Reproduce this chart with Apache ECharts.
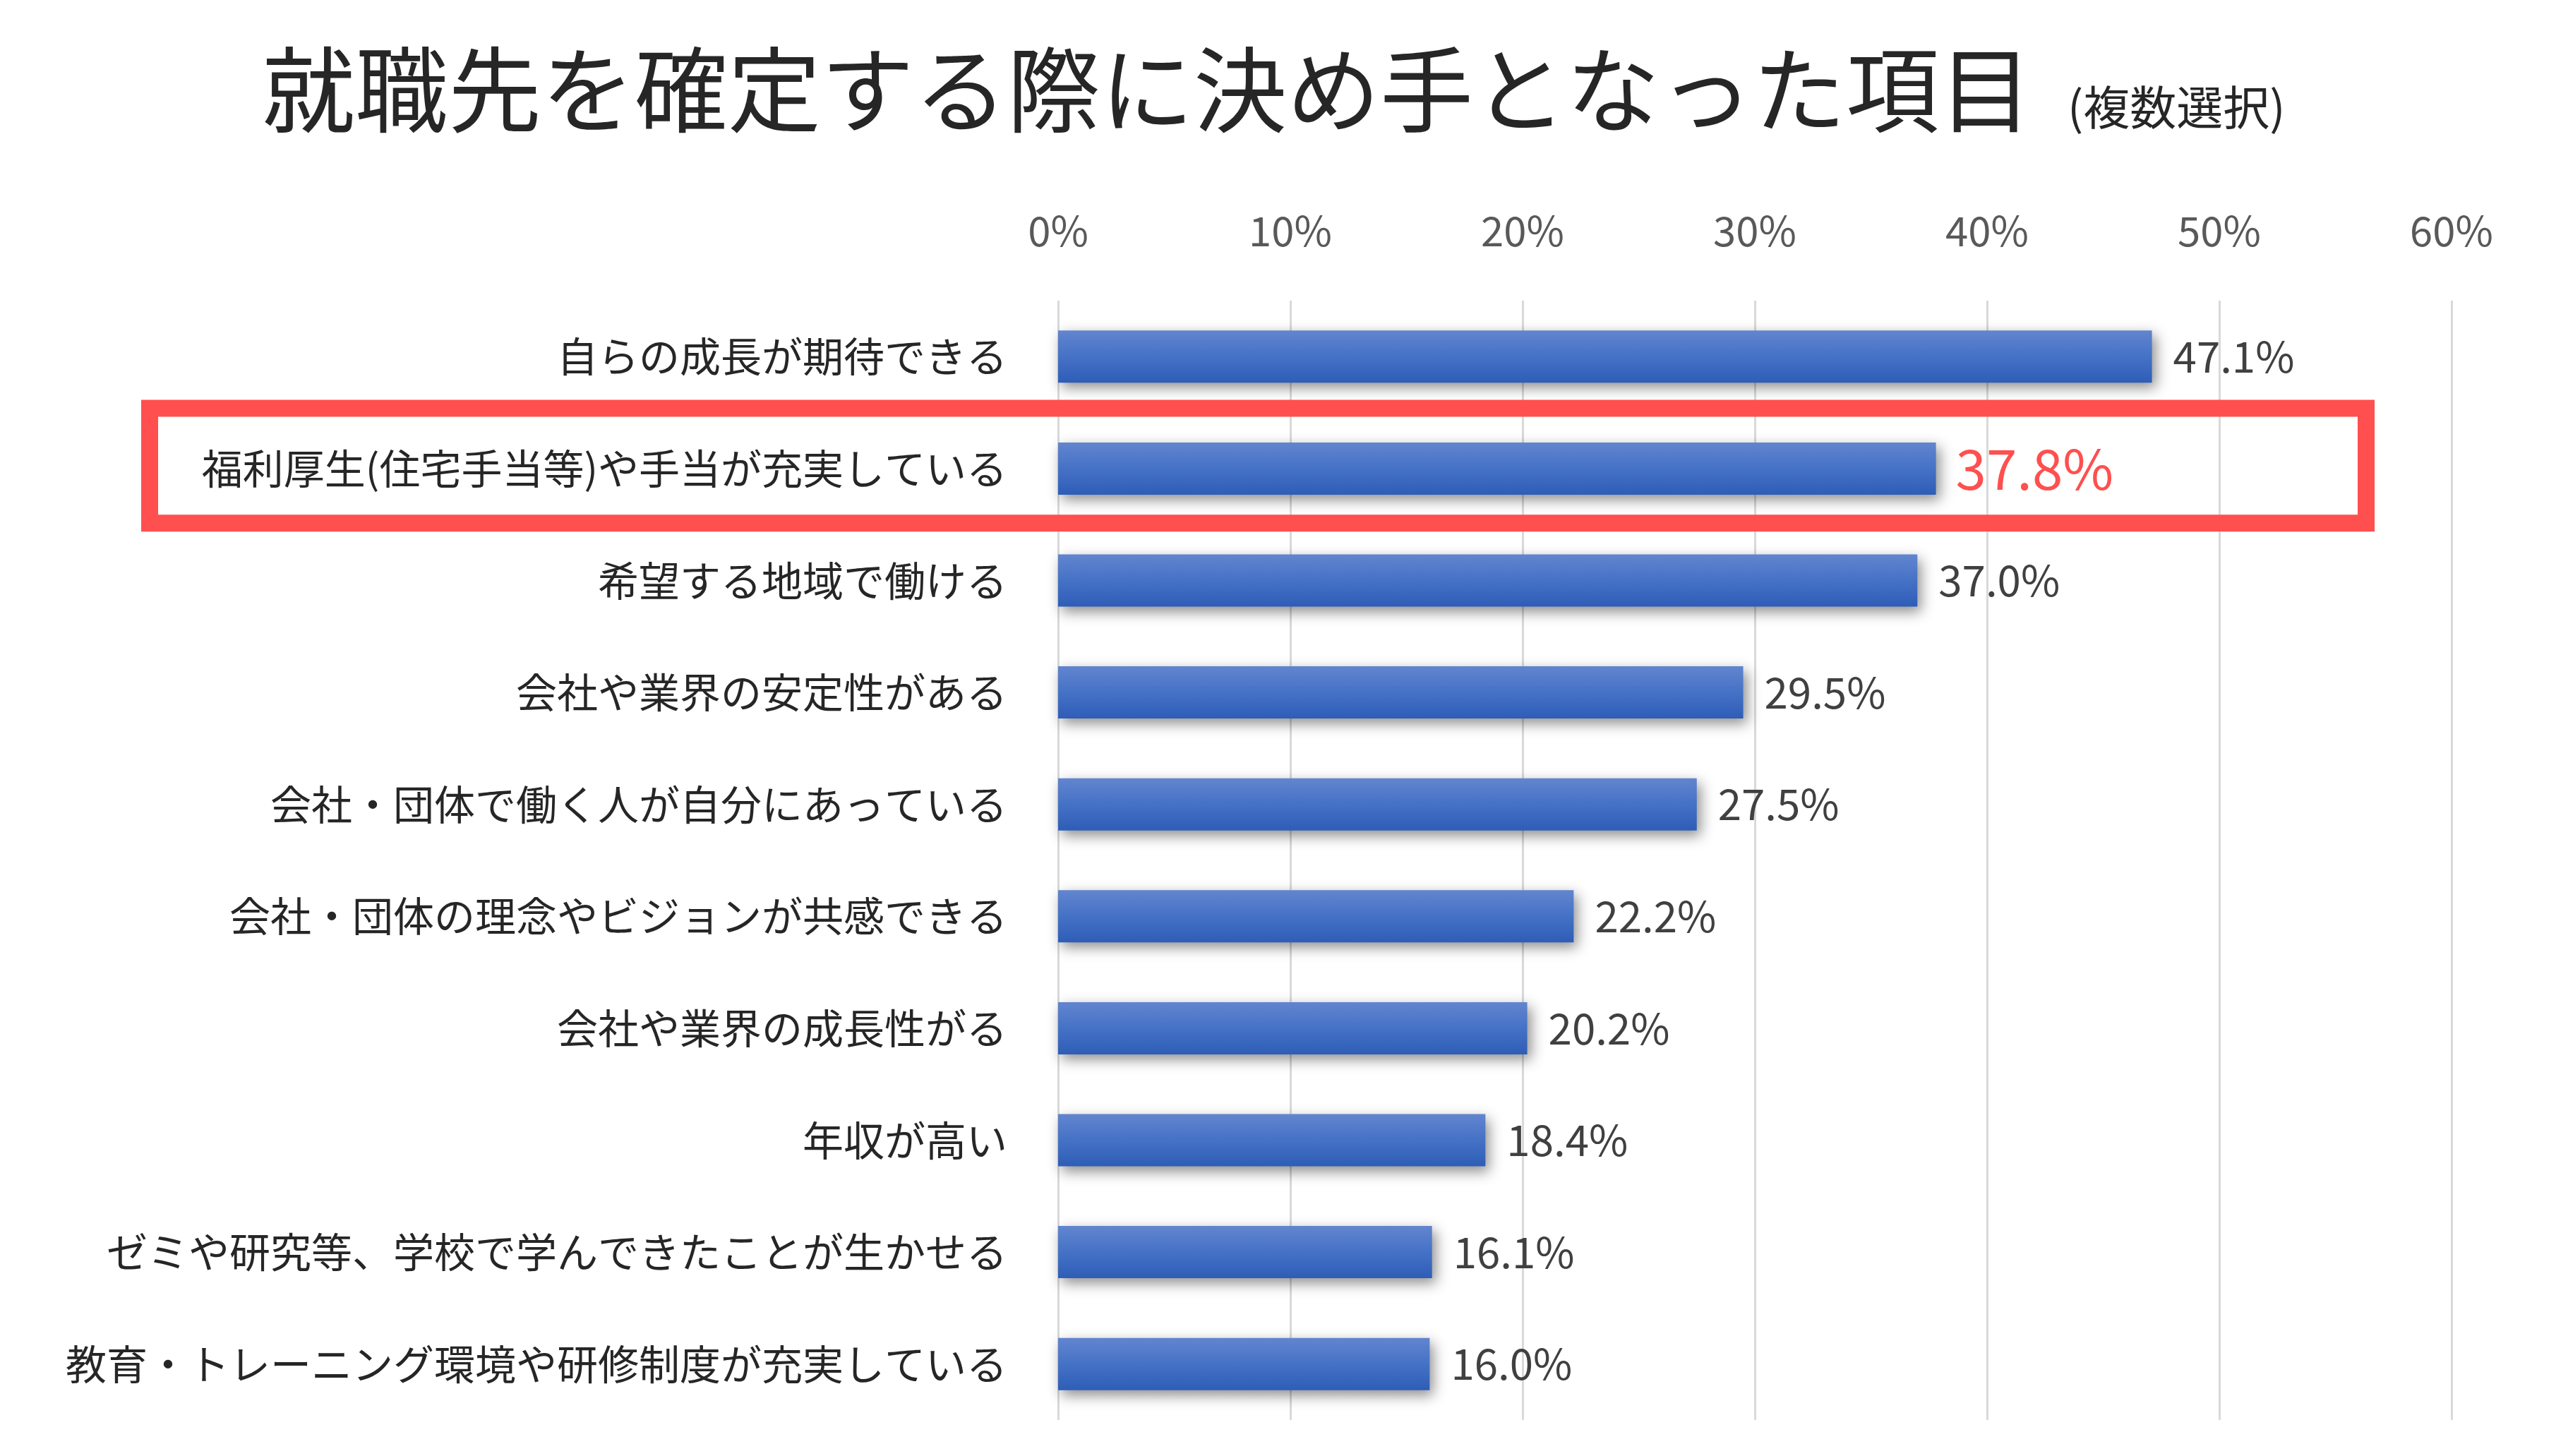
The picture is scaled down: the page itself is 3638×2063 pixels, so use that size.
<!DOCTYPE html>
<html>
<head>
<meta charset="utf-8">
<script src="https://cdn.jsdelivr.net/npm/echarts@6/dist/echarts.min.js"></script>
<style>
html,body{margin:0;padding:0;background:#fff;}
#c{width:3638px;height:2063px;}
</style>
</head>
<body>
<div id="c"></div>
<script>
const titleMain = '就職先を確定する際に決め手となった項目';
const titleSub = '(複数選択)';
const categories = [
  '自らの成長が期待できる',
  '福利厚生(住宅手当等)や手当が充実している',
  '希望する地域で働ける',
  '会社や業界の安定性がある',
  '会社・団体で働く人が自分にあっている',
  '会社・団体の理念やビジョンが共感できる',
  '会社や業界の成長性がる',
  '年収が高い',
  'ゼミや研究等、学校で学んできたことが生かせる',
  '教育・トレーニング環境や研修制度が充実している'
];
const values = [47.1, 37.8, 37.0, 29.5, 27.5, 22.2, 20.2, 18.4, 16.1, 16.0];
const highlightIndex = 1;
const xTicks = [0, 10, 20, 30, 40, 50, 60];

const FONT = '"Noto Sans CJK JP", "Noto Sans", sans-serif';
const chart = echarts.init(document.getElementById('c'), null, {renderer: 'canvas'});

const barColor = new echarts.graphic.LinearGradient(0, 0, 0, 1, [
  {offset: 0, color: '#6285CF'},
  {offset: 0.5, color: '#4572C6'},
  {offset: 1, color: '#2E5DB7'}
]);

const data = values.map((v, i) => {
  const d = {value: v};
  if (i === highlightIndex) {
    d.label = {color: '#FF4F4F', fontSize: 78, distance: 28};
  }
  return d;
});

chart.setOption({
  animation: false,
  backgroundColor: '#ffffff',
  textStyle: {fontFamily: FONT},
  title: {
    text: '{a|' + titleMain + '}{b|' + titleSub + '}',
    left: 366,
    top: 38,
    textStyle: {
      fontWeight: 'normal',
      rich: {
        a: {fontSize: 132, color: '#262626', fontFamily: FONT, fontWeight: 'normal', verticalAlign: 'bottom', lineHeight: 150},
        b: {fontSize: 66, color: '#262626', fontFamily: FONT, fontWeight: 'normal', verticalAlign: 'bottom', padding: [0, 0, 8, 50]}
      }
    }
  },
  grid: {left: 1499, right: 165, top: 426, bottom: 51, containLabel: false},
  xAxis: {
    type: 'value',
    position: 'top',
    min: xTicks[0],
    max: xTicks[xTicks.length - 1],
    interval: 10,
    axisLine: {show: false},
    axisTick: {show: false},
    axisLabel: {
      formatter: v => v + '%',
      fontSize: 58,
      color: '#595959',
      margin: 70,
      fontFamily: FONT
    },
    splitLine: {show: true, lineStyle: {color: '#D9D9D9', width: 3}}
  },
  yAxis: {
    type: 'category',
    inverse: true,
    data: categories,
    axisLine: {show: false},
    axisTick: {show: false},
    axisLabel: {fontSize: 58, color: '#262626', margin: 72, fontFamily: FONT, padding: [0, 0, 22, 0]},
    splitLine: {show: false}
  },
  series: [{
    type: 'bar',
    data: data,
    barWidth: 74,
    itemStyle: {
      color: barColor,
      shadowBlur: 18,
      shadowOffsetX: 5,
      shadowOffsetY: 7,
      shadowColor: 'rgba(0,0,0,0.45)'
    },
    label: {
      show: true,
      position: 'right',
      distance: 30,
      formatter: p => p.value.toFixed(1) + '%',
      fontSize: 60,
      color: '#404040',
      fontFamily: FONT
    }
  }]
});

// Highlight box around the emphasized category band
const cy = chart.convertToPixel({yAxisIndex: 0}, highlightIndex);
const band = chart.convertToPixel({yAxisIndex: 0}, 1) - chart.convertToPixel({yAxisIndex: 0}, 0);
const half = band / 2 + 2;
chart.setOption({
  graphic: [{
    type: 'rect',
    z: 100,
    shape: {x: 212, y: cy - half - 4, width: 3140, height: half * 2},
    style: {fill: 'none', stroke: '#FF4F4F', lineWidth: 24}
  }]
});
</script>
</body>
</html>
